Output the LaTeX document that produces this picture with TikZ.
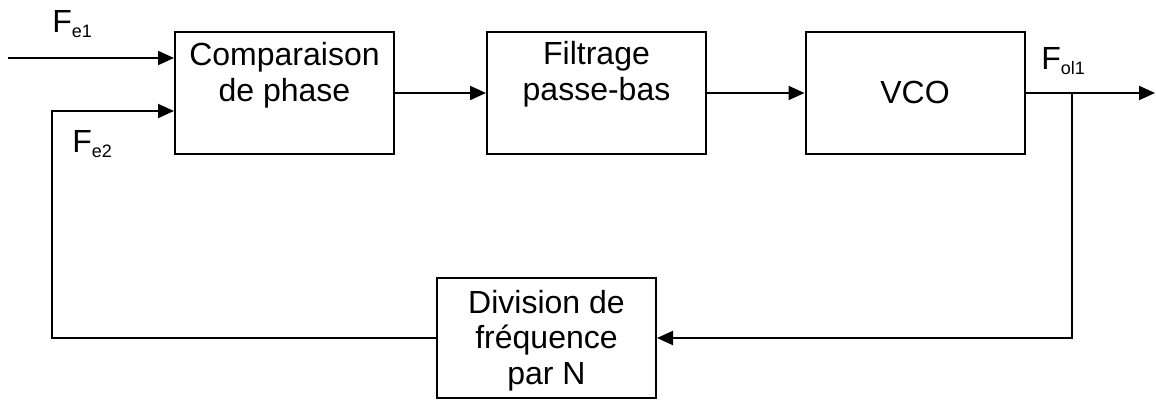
\documentclass[tikz,border=0pt]{standalone}
\usepackage{fontspec}
\setmainfont{Liberation Sans}
\usetikzlibrary{arrows.meta,calc}
% lowered small index after a letter
\newcommand\lowidx[1]{\raisebox{-2pt}{\fontsize{9}{10}\selectfont #1}}
\begin{document}
\begin{tikzpicture}[x=0.5pt,y=-0.5pt,
  blk/.style={draw,line width=1pt,minimum width=109.5pt,minimum height=61pt,inner sep=0pt},
  txt/.style={font=\fontsize{16}{17.75}\selectfont,align=center,inner sep=0pt},
  wire/.style={line width=1pt},
  arr/.style={wire,-{Triangle[length=8pt,width=7pt]}},
]
\useasboundingbox (0,0) rectangle (1156,401);

% blocks
\node[blk] (cmp) at (284.5,93) {};
\node[blk] (flt) at (596.5,93) {};
\node[blk] (vco) at (915,93) {};
\node[blk,minimum height=60pt] (div) at (546.5,338) {};

% block texts (placed by the baseline of their last line)
\node[txt,anchor=base] (cmpT) at (284.5,101.5) {Comparaison\\de phase};
\node[txt,anchor=base] (fltT) at (596.5,100.5) {Filtrage\\passe-bas};
\node[txt,anchor=base] (vcoT) at (915,103.3) {VCO};
\node[txt,anchor=base] (divT) at (546.5,384) {Division de\\fréquence\\par N};

% signal labels
\node[txt,anchor=base west] (fe1) at (52,33) {F\lowidx{e1}};
\node[txt,anchor=base west] (fe2) at (72,153) {F\lowidx{e2}};
\node[txt,anchor=base west] (fol) at (1041,70) {F\lowidx{ol1}};

% connection points
\coordinate (src) at (8,58);
\coordinate (out) at (1155,93);
\coordinate (tap) at (1072,93);
\coordinate (fbl) at (52,111);

% forward path
\draw[arr] (src) -- (src -| cmp.west);
\draw[arr] (cmp.east) -- (flt.west);
\draw[arr] (flt.east) -- (vco.west);
\draw[arr] (vco.east) -- (out);

% feedback loop
\draw[arr] (tap) |- (div.east);
\draw[arr] (div.west) -| (fbl) -- (fbl -| cmp.west);
\end{tikzpicture}
\end{document}
